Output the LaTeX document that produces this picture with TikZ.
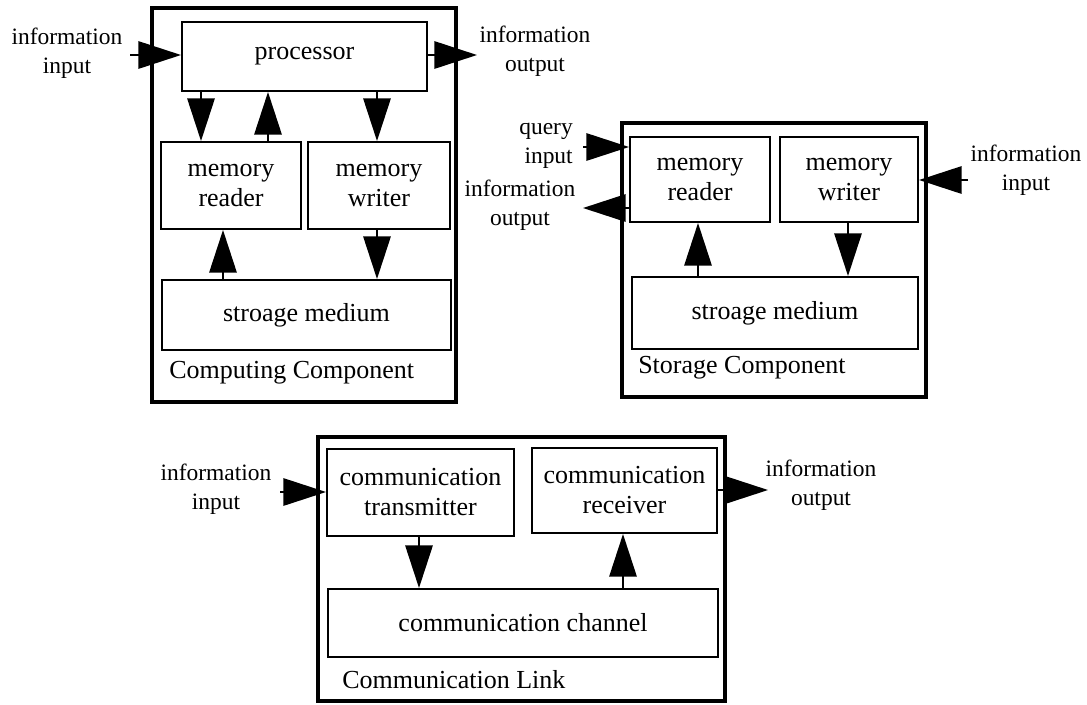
\documentclass[tikz,border=0pt]{standalone}
\usepackage{fontspec}
\setmainfont{Liberation Serif}
\usetikzlibrary{arrows.meta}
\begin{document}
\begin{tikzpicture}[x=0.75pt,y=-0.75pt,
  box/.style={draw, line width=1.5pt, inner sep=0pt, align=center, font=\fontsize{19.5}{22.5}\selectfont},
  frame/.style={draw, line width=3.4pt, inner sep=0pt},
  lbl/.style={align=center, inner sep=0pt, font=\fontsize{17.6}{21.75}\selectfont},
  comptitle/.style={anchor=west, inner sep=0pt, font=\fontsize{19.5}{22.5}\selectfont},
  arr/.style={line width=1.5pt, -{Triangle[length=32pt,width=20.5pt]}}
]
\path[use as bounding box] (0,0) rectangle (1087,704);

% ---------- Computing Component ----------
\node[frame, minimum width=228pt, minimum height=295.5pt] (cc) at (304,205) {};
\node[box, minimum width=183.75pt, minimum height=51.75pt] (proc) at (304.5,56.5) {processor};
\node[box, minimum width=105pt, minimum height=65.25pt] (rd1) at (231,185.5) {memory\\reader};
\node[box, minimum width=106.5pt, minimum height=65.25pt] (wr1) at (379,185.5) {memory\\writer};
\node[box, minimum width=216.75pt, minimum height=52.5pt] (sm1) at (306.5,315) {stroage medium};
\node[comptitle] (cct) at (169,373) {Computing Component};

\node[lbl] (li1) at (67,53.5) {information\\input};
\node[lbl] (lo1) at (535,51) {information\\output};

\coordinate (ci1) at (130,55);
\coordinate (co1) at (477,55);
\coordinate (x201) at (201,0);
\coordinate (x268) at (268,0);
\coordinate (x377) at (377,0);
\coordinate (x223) at (223,0);

\draw[arr] (ci1) -- (ci1 -| proc.west);
\draw[arr] (proc.east |- co1) -- (co1);
\draw[arr] (proc.south -| x201) -- (rd1.north -| x201);
\draw[arr] (rd1.north -| x268) -- (proc.south -| x268);
\draw[arr] (proc.south -| x377) -- (wr1.north -| x377);
\draw[arr] (wr1.south -| x377) -- (sm1.north -| x377);
\draw[arr] (sm1.north -| x223) -- (rd1.south -| x223);

% ---------- Storage Component ----------
\node[frame, minimum width=228pt, minimum height=205.5pt] (sc) at (774,260) {};
\node[box, minimum width=105pt, minimum height=63.75pt] (rd2) at (700,179.5) {memory\\reader};
\node[box, minimum width=103.5pt, minimum height=63.75pt] (wr2) at (849,179.5) {memory\\writer};
\node[box, minimum width=214.5pt, minimum height=54pt] (sm2) at (775,313) {stroage medium};
\node[comptitle] (sct) at (638,368) {Storage Component};

\node[lbl, align=right, anchor=east] (lq2) at (573,146) {query\\input};
\node[lbl] (lo2) at (520,205) {information\\output};
\node[lbl] (li2) at (1026,170) {information\\input};

\coordinate (qi) at (583,147);
\coordinate (io2) at (583,208);
\coordinate (ii2) at (968,180);
\coordinate (x698) at (698,0);
\coordinate (x848) at (848,0);

\draw[arr] (qi) -- (qi -| rd2.west);
\draw[arr] (rd2.west |- io2) -- (io2);
\draw[arr] (ii2) -- (ii2 -| wr2.east);
\draw[arr] (sm2.north -| x698) -- (rd2.south -| x698);
\draw[arr] (wr2.south -| x848) -- (sm2.north -| x848);

% ---------- Communication Link ----------
\node[frame, minimum width=305.25pt, minimum height=198pt] (cl) at (521.5,569) {};
\node[box, minimum width=140.25pt, minimum height=65.25pt] (tx) at (420.5,492.5) {communication\\transmitter};
\node[box, minimum width=138.75pt, minimum height=63.75pt] (rx) at (624.5,490.5) {communication\\receiver};
\node[box, minimum width=292.5pt, minimum height=51pt] (ch) at (523,623) {communication channel};
\node[comptitle] (clt) at (342,680) {Communication Link};

\node[lbl] (li3) at (216,489) {information\\input};
\node[lbl] (lo3) at (821,485) {information\\output};

\coordinate (ii3) at (280,492);
\coordinate (io3) at (768,490);
\coordinate (x419) at (419,0);
\coordinate (x623) at (623,0);

\draw[arr] (ii3) -- (ii3 -| tx.west);
\draw[arr] (rx.east |- io3) -- (io3);
\draw[arr] (tx.south -| x419) -- (ch.north -| x419);
\draw[arr] (ch.north -| x623) -- (rx.south -| x623);
\end{tikzpicture}
\end{document}
